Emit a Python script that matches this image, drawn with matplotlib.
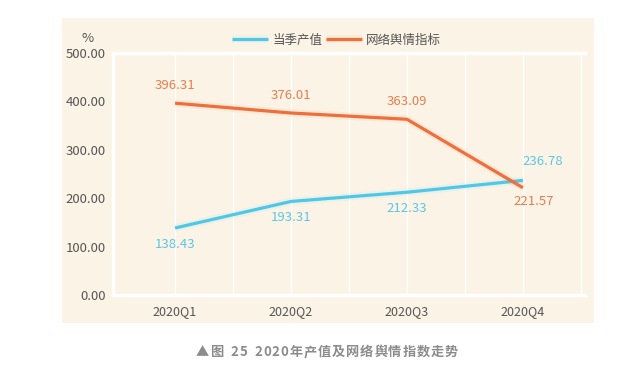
import matplotlib
matplotlib.use("Agg")
import matplotlib.pyplot as plt
import matplotlib.patheffects as pe
from matplotlib.patches import Rectangle

plt.rcParams['font.family'] = ['Noto Sans CJK SC', 'DejaVu Sans']

categories = ["2020Q1", "2020Q2", "2020Q3", "2020Q4"]
output_value = [138.43, 193.31, 212.33, 236.78]
sentiment_index = [396.31, 376.01, 363.09, 221.57]
series_names = ["当季产值", "网络舆情指标"]
y_ticks = [0, 100, 200, 300, 400, 500]
caption = "▲图 25 2020年产值及网络舆情指数走势"

blue = "#4FC8E8"
orange = "#EE6F3C"
blue_lbl = "#5CC6E4"
orange_lbl = "#E57E4E"
bg = "#FBF4E6"
txt = "#555555"

fig = plt.figure(figsize=(6.36, 3.84), dpi=100)
fig.patch.set_facecolor("white")
fig.add_artist(Rectangle((62/636, 1-323/384), (594-62)/636, (323-18)/384,
                         transform=fig.transFigure, facecolor=bg, edgecolor="none", zorder=0))

ax = fig.add_axes([113/636, 1-295/384, (585-113)/636, (295-53)/384])
ax.set_facecolor(bg)
x = list(range(len(categories)))
ax.set_xlim(-0.535, 3.535)
ax.set_ylim(0, 500)

for gx in [0, 0.5, 1, 1.5, 2, 2.5, 3, 3.5]:
    ax.axvline(gx, color="white", lw=0.9, zorder=1)

for s in ["left", "bottom", "top"]:
    ax.spines[s].set_color("white")
    ax.spines[s].set_linewidth(2.5)
ax.spines["right"].set_visible(False)

glow_b = [pe.Stroke(linewidth=5.5, foreground=blue, alpha=0.08), pe.Normal()]
glow_o = [pe.Stroke(linewidth=5.5, foreground=orange, alpha=0.08), pe.Normal()]
ax.plot(x, output_value, color=blue, lw=2.3, label=series_names[0], zorder=3,
        path_effects=glow_b, solid_capstyle="butt")
ax.plot(x, sentiment_index, color=orange, lw=2.3, label=series_names[1], zorder=4,
        path_effects=glow_o, solid_capstyle="butt")

for i, v in enumerate(output_value):
    if i == 3:
        ax.annotate(f"{v:.2f}", (x[i], v), xytext=(14, 9), textcoords="offset points",
                    ha="center", va="bottom", color=blue_lbl, fontsize=9.5)
    else:
        ax.annotate(f"{v:.2f}", (x[i], v), xytext=(0, -7), textcoords="offset points",
                    ha="center", va="top", color=blue_lbl, fontsize=9.5)
for i, v in enumerate(sentiment_index):
    if i == 3:
        ax.annotate(f"{v:.2f}", (x[i], v), xytext=(8, -5), textcoords="offset points",
                    ha="center", va="top", color=orange_lbl, fontsize=9.5)
    else:
        ax.annotate(f"{v:.2f}", (x[i], v), xytext=(0, 8), textcoords="offset points",
                    ha="center", va="bottom", color=orange_lbl, fontsize=9.5)

ax.set_xticks(x)
ax.set_xticklabels(categories, fontsize=9, color=txt)
ax.set_yticks(y_ticks)
ax.set_yticklabels([f"{v:.2f}" for v in y_ticks], fontsize=9.5, color=txt)
ax.tick_params(length=0, pad=5)
ax.tick_params(axis="x", pad=7)

fig.text(88/636, 1-38/384, "%", ha="center", va="center", fontsize=9.5, color=txt)

leg = ax.legend(loc="lower center", bbox_to_anchor=(0.4735, 1.0), ncol=2, frameon=False,
                fontsize=9, handlelength=2.9, columnspacing=0.3, handletextpad=0.3,
                borderaxespad=0.1, labelcolor=txt)

# caption with letter spacing, laid out char by char
fig.canvas.draw()
renderer = fig.canvas.get_renderer()
cap_kw = dict(fontsize=9.5, color="#8C8C8C", fontweight="bold", va="center", ha="left")
widths = []
for ch in caption:
    t = fig.text(0, 0, ch if ch != " " else "a", **cap_kw)
    w = t.get_window_extent(renderer).width
    if ch == " ":
        w = w * 0.7
    widths.append(w)
    t.remove()
spacing = 0.9
total = sum(widths) + spacing * (len(caption) - 1)
xpos = 327 - total / 2
for ch, w in zip(caption, widths):
    if ch != " ":
        fig.text(xpos / 636, 1 - 352 / 384, ch, **cap_kw)
    xpos += w + spacing

fig.savefig("out.png", dpi=100, facecolor="white")
